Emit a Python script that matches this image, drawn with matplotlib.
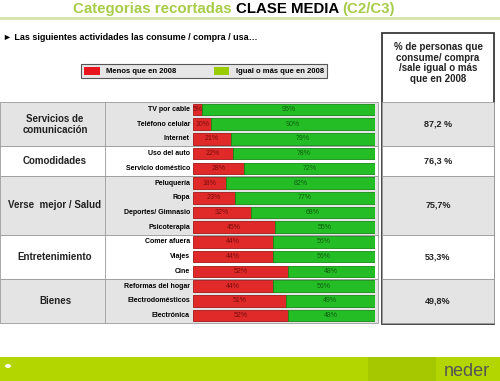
import matplotlib
matplotlib.use('Agg')
import matplotlib.pyplot as plt
import matplotlib.transforms as mtransforms
from matplotlib.patches import Rectangle, Patch, Ellipse

plt.rcParams['font.family'] = ['Liberation Sans', 'DejaVu Sans']

groups = ['Servicios de\ncomunicación', 'Comodidades', 'Verse  mejor / Salud',
          'Entretenimiento', 'Bienes']
group_sizes = [3, 2, 4, 3, 3]
group_pct = ['87,2 %', '76,3 %', '75,7%', '53,3%', '49,8%']
items = ['TV por cable', 'Teléfono celular', 'Internet',
         'Uso del auto', 'Servicio doméstico',
         'Peluquería', 'Ropa', 'Deportes/ Gimnasio', 'Psicoterapia',
         'Comer afuera', 'Viajes', 'Cine',
         'Reformas del hogar', 'Electrodomésticos', 'Electrónica']
menos = [5, 10, 21, 22, 28, 18, 23, 32, 45, 44, 44, 52, 44, 51, 52]
igual = [95, 90, 79, 78, 72, 82, 77, 68, 55, 56, 56, 48, 56, 49, 48]
legend_labels = ['Menos que en 2008', 'Igual o más que en 2008']

fig = plt.figure(figsize=(5, 3.81), dpi=100)
bg = fig.add_axes([0, 0, 1, 1])
bg.set_xlim(0, 500)
bg.set_ylim(381, 0)
bg.axis('off')

ax = fig.add_axes([193 / 500, 1 - 323 / 381, 182 / 500, 221 / 381])
ax.set_xlim(0, 100)
ax.set_ylim(len(items) - 0.5, -0.5)
ax.axis('off')

# x in pixels, y in bar rows
trans = mtransforms.blended_transform_factory(bg.transData, ax.transData)

# title (top is cut off in the original slide)
t1 = bg.text(73, 16, 'Categorias recortadas ', color='#a8cc48', fontsize=10.8,
             fontweight='bold', va='bottom')
t2 = bg.annotate('CLASE MEDIA ', xy=(1, 0), xycoords=t1, va='bottom',
                 color='black', fontsize=10.8, fontweight='bold')
bg.annotate('(C2/C3)', xy=(1, 0), xycoords=t2, va='bottom',
            color='#a8cc48', fontsize=10.8, fontweight='bold')
bg.plot([0, 500], [18, 18], color='#d5e3a8', lw=2)

bg.text(3, 38, '► Las siguientes actividades las consume / compra / usa…',
        fontsize=6.5, fontweight='bold', va='center')

# table rows
edges = [-0.5]
for n in group_sizes:
    edges.append(edges[-1] + n)
for i, (g, n) in enumerate(zip(groups, group_sizes)):
    y0, y1 = edges[i], edges[i + 1]
    fc = '#e4e4e4' if i % 2 == 0 else 'white'
    ax.add_patch(Rectangle((0, y0), 378, n, transform=trans, fc=fc, ec='#9a9a9a',
                           lw=0.6, clip_on=False, zorder=0))
    ax.add_patch(Rectangle((382, y0), 112, n, transform=trans, fc=fc, ec='#9a9a9a',
                           lw=0.6, clip_on=False, zorder=0))
    ax.text(55, (y0 + y1) / 2, g, transform=trans, ha='center', va='center',
            fontsize=7, fontweight='bold', color='#222222', linespacing=1.1)
    ax.text(438, (y0 + y1) / 2, group_pct[i], transform=trans, ha='center',
            va='center', fontsize=6.5, fontweight='bold', color='#222222')
ax.plot([105, 105], [edges[0], edges[-1]], transform=trans, color='#9a9a9a',
        lw=0.6, clip_on=False, zorder=0)

for i, it in enumerate(items):
    ax.text(190, i, it, transform=trans, ha='right', va='center', fontsize=5,
            fontweight='bold')

# bars
ax.barh(range(len(items)), menos, height=0.78, color='#e02a2a',
        edgecolor='#a31616', lw=0.6)
ax.barh(range(len(items)), igual, left=menos, height=0.78, color='#25bd25',
        edgecolor='#178a17', lw=0.6)
for i, (m, g) in enumerate(zip(menos, igual)):
    ax.text(m / 2, i, f'{m}%', ha='center', va='center', fontsize=5, color='#7a0c0c')
    ax.text(m + g / 2, i, f'{g}%', ha='center', va='center', fontsize=5, color='#0f5f0f')

# right box
bg.add_patch(Rectangle((382, 33), 112, 291, fc='none', ec='#3a3a3a', lw=1.3, zorder=5))
bg.text(438, 63, '% de personas que\nconsume/ compra\n/sale igual o más\nque en 2008',
        ha='center', va='center', fontsize=7, fontweight='bold', color='#222222',
        linespacing=1.05)

# legend
leg = fig.legend(handles=[Patch(fc='#e8141e'), Patch(fc='#99cc00')],
                 labels=legend_labels, loc='center',
                 bbox_to_anchor=(204 / 500, 1 - 71 / 381), ncol=2, frameon=True,
                 prop={'size': 5.5, 'weight': 'bold'}, facecolor='#e6e6e6',
                 edgecolor='#555555', fancybox=False, framealpha=1,
                 columnspacing=5, handlelength=2, handleheight=1.3)
leg.get_frame().set_linewidth(0.8)

# footer
bg.add_patch(Rectangle((0, 357), 500, 24, fc='#b3d600', ec='none'))
bg.add_patch(Rectangle((368, 357), 68, 24, fc='#a5c800', ec='none'))
bg.add_patch(Ellipse((8, 366), 6, 4, fc='white', ec='none'))
bg.text(444, 372, 'neder', fontsize=13, color='#555555', va='center')

fig.savefig('out.png', dpi=100)
